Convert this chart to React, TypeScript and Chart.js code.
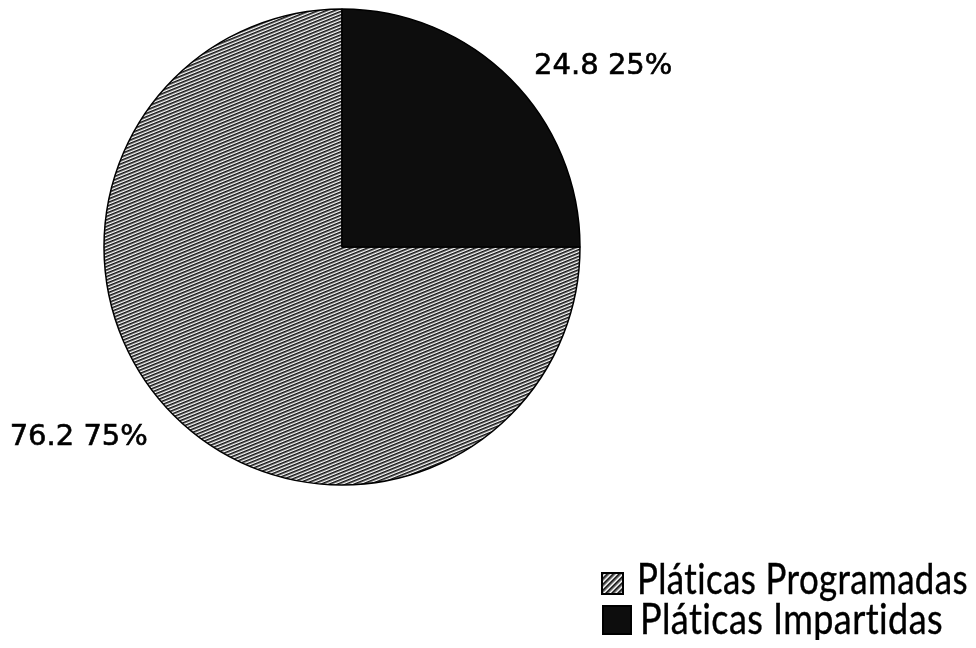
import React, { useEffect, useRef } from 'react';
import { Chart, ArcElement, PieController } from 'chart.js';

Chart.register(ArcElement, PieController);

// Datos
const categorias = ['Pláticas Programadas', 'Pláticas Impartidas'];
const valores = [76.2, 24.8];
const porcentajes = [75, 25];

// Trama de líneas diagonales para las pláticas programadas
function crearTrama(ctx: CanvasRenderingContext2D, paso: number, angulo: number) {
  const c = document.createElement('canvas');
  c.width = 4;
  c.height = 30;
  const g = c.getContext('2d')!;
  g.fillStyle = '#ffffff';
  g.fillRect(0, 0, 4, 30);
  g.fillStyle = '#111111';
  for (let y = 0; y < 30; y += 3) g.fillRect(0, y, 4, 1.6);
  const p = ctx.createPattern(c, 'repeat')!;
  p.setTransform(new DOMMatrix().rotate(angulo).scale(paso / 3));
  return p;
}

const etiquetasPlugin = {
  id: 'etiquetas',
  afterDatasetsDraw(chart: any) {
    const ctx = chart.ctx as CanvasRenderingContext2D;
    const meta = chart.getDatasetMeta(0);
    ctx.save();
    ctx.font = '29px "DejaVu Sans"';
    ctx.fillStyle = '#000';
    ctx.strokeStyle = '#000';
    ctx.lineWidth = 0.6;
    ctx.textBaseline = 'middle';
    meta.data.forEach((arc: any, i: number) => {
      const { x, y, startAngle, endAngle, outerRadius } = arc.getProps(
        ['x', 'y', 'startAngle', 'endAngle', 'outerRadius'],
        true
      );
      const mid = (startAngle + endAngle) / 2;
      const r = outerRadius * 1.1;
      const cx = x + Math.cos(mid) * r;
      const cy = y + Math.sin(mid) * r;
      const derecha = Math.cos(mid) >= 0;
      ctx.textAlign = derecha ? 'left' : 'right';
      const txt = `${valores[i]} ${porcentajes[i]}%`;
      const tx = cx + (derecha ? 7 : -9);
      ctx.fillText(txt, tx, cy + 5);
      ctx.strokeText(txt, tx, cy + 5);
    });
    ctx.restore();
  },
};

const leyendaPlugin = {
  id: 'leyenda',
  afterDraw(chart: any) {
    const ctx = chart.ctx as CanvasRenderingContext2D;
    const ds = chart.data.datasets[0];
    const filas = [
      { bx: 594, by: 565, bs: 21, tx: 629, ty: 586, w: 331 },
      { bx: 595, by: 598, bs: 28, tx: 632, ty: 626, w: 303 },
    ];
    ctx.save();
    ctx.font = '43px Lato';
    (ctx as any).letterSpacing = '0.5px';
    ctx.textBaseline = 'alphabetic';
    ctx.textAlign = 'left';
    chart.data.labels.forEach((lab: string, i: number) => {
      const f = filas[i];
      ctx.fillStyle = i === 0 ? crearTrama(ctx, 4.2, -45) : ds.backgroundColor[i];
      ctx.fillRect(f.bx, f.by, f.bs, f.bs);
      ctx.strokeStyle = '#000';
      ctx.lineWidth = 2;
      ctx.strokeRect(f.bx, f.by, f.bs, f.bs);
      ctx.fillStyle = '#000';
      ctx.lineWidth = 0.4;
      ctx.fillText(lab, f.tx, f.ty, f.w);
      ctx.strokeText(lab, f.tx, f.ty, f.w);
    });
    ctx.restore();
  },
};

const App: React.FC = () => {
  const canvasRef = useRef<HTMLCanvasElement>(null);
  const chartRef = useRef<Chart | null>(null);

  useEffect(() => {
    if (!canvasRef.current) return;
    if (chartRef.current) chartRef.current.destroy();
    const ctx = canvasRef.current.getContext('2d')!;
    const trama = crearTrama(ctx, 3.1, -22);

    chartRef.current = new Chart(canvasRef.current, {
      type: 'pie',
      data: {
        labels: categorias,
        datasets: [
          {
            data: porcentajes,
            backgroundColor: [trama as any, '#0d0d0d'],
            borderColor: '#000',
            borderWidth: 1.5,
          },
        ],
      },
      options: {
        animation: false,
        responsive: true,
        maintainAspectRatio: false,
        rotation: 90,
        radius: 238,
        layout: { padding: { left: 0, right: 292, top: 0, bottom: 154 } },
        plugins: {
          legend: { display: false },
          tooltip: { enabled: false },
        },
      },
      plugins: [etiquetasPlugin, leyendaPlugin],
    });

    return () => {
      if (chartRef.current) {
        chartRef.current.destroy();
        chartRef.current = null;
      }
    };
  }, []);

  return (
    <div style={{ width: 960, height: 632, background: '#fff' }}>
      <canvas ref={canvasRef} />
    </div>
  );
};

export default App;
